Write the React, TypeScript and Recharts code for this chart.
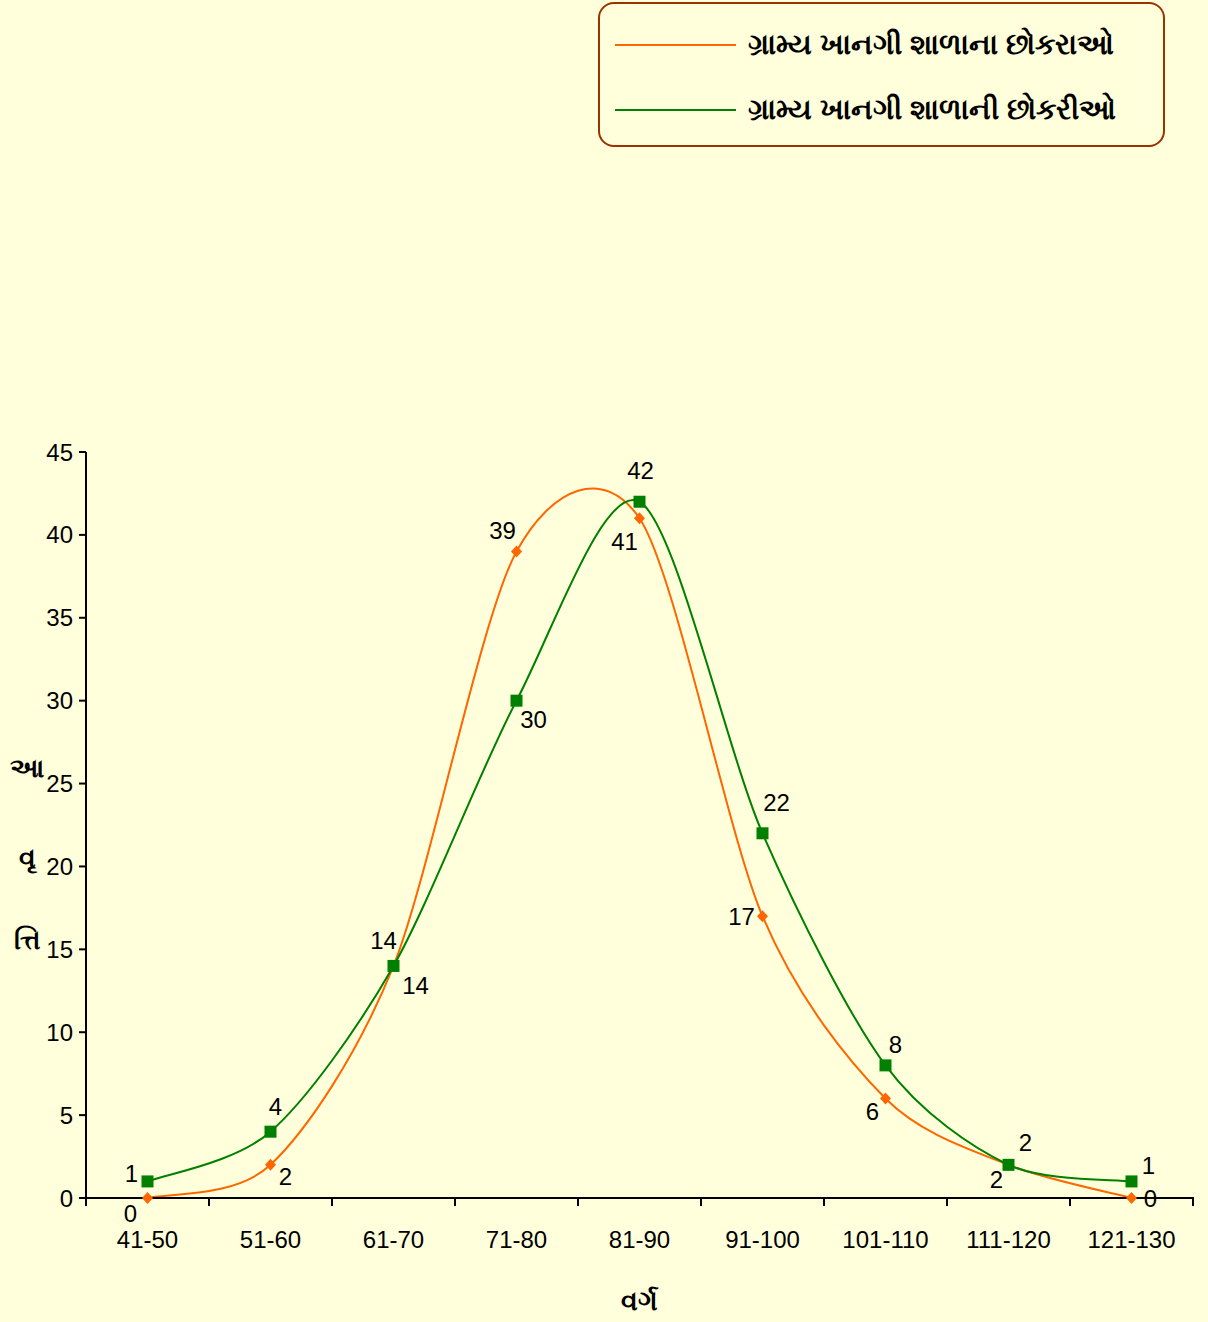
import { LineChart, Line, XAxis, YAxis, LabelList } from 'recharts';

const categories = ['41-50', '51-60', '61-70', '71-80', '81-90', '91-100', '101-110', '111-120', '121-130'];
const boys = [0, 2, 14, 39, 41, 17, 6, 2, 0];
const girls = [1, 4, 14, 30, 42, 22, 8, 2, 1];
const yTicks = [0, 5, 10, 15, 20, 25, 30, 35, 40, 45];

const boysName = 'ગ્રામ્ય ખાનગી શાળાના છોકરાઓ';
const girlsName = 'ગ્રામ્ય ખાનગી શાળાની છોકરીઓ';

// label placement around each point (dx, dy)
const boysLabelPos = [[-17, 15], [15, 12], [22, 20], [-14, -21], [-15, 23], [-21, 0], [-13, 13], [-12, 15], [19, 0]];
const girlsLabelPos = [[-16, -8], [5, -25], [-10, -25], [17, 19], [1, -31], [14, -31], [10, -21], [17, -22], [17, -16]];

const data = categories.map((c, i) => ({ name: c, boys: boys[i], girls: girls[i] }));

const BG = '#FFFFDB';
const ORANGE = '#FF6600';
const GREEN = '#008000';
const FONT = '"Liberation Sans", Arial, sans-serif';
const HALF_BAND = 61.5;
const TENSION = 0.145;

// excel-like smoothed line (catmull-rom style bezier)
function excelCurve(context: any) {
  let pts: [number, number][] = [];
  return {
    areaStart() {},
    areaEnd() {},
    lineStart() { pts = []; },
    lineEnd() {
      if (!pts.length) return;
      context.moveTo(pts[0][0], pts[0][1]);
      for (let i = 0; i < pts.length - 1; i++) {
        const p0 = pts[Math.max(i - 1, 0)];
        const p1 = pts[i];
        const p2 = pts[i + 1];
        const p3 = pts[Math.min(i + 2, pts.length - 1)];
        context.bezierCurveTo(
          p1[0] + (p2[0] - p0[0]) * TENSION, p1[1] + (p2[1] - p0[1]) * TENSION,
          p2[0] - (p3[0] - p1[0]) * TENSION, p2[1] - (p3[1] - p1[1]) * TENSION,
          p2[0], p2[1]
        );
      }
    },
    point(x: number, y: number) { pts.push([+x, +y]); },
  };
}

const Diamond = (props: any) => {
  const { cx, cy } = props;
  if (cx == null || cy == null) return null;
  return <path d={`M${cx},${cy - 6}L${cx + 5.5},${cy}L${cx},${cy + 6}L${cx - 5.5},${cy}Z`} fill={ORANGE} />;
};

const Square = (props: any) => {
  const { cx, cy } = props;
  if (cx == null || cy == null) return null;
  return <rect x={cx - 6} y={cy - 6} width={12} height={12} fill={GREEN} />;
};

const makeLabel = (pos: number[][]) => (props: any) => {
  const { x, y, value, index } = props;
  const [dx, dy] = pos[index] || [0, -15];
  return (
    <text x={x + dx} y={y + dy} textAnchor="middle" dominantBaseline="central" fontSize={24} fontFamily={FONT} fill="#000">
      {value}
    </text>
  );
};

const XTick = (props: any) => {
  const { x, y, payload, index } = props;
  const top = y - 9;
  return (
    <g>
      {index === 0 && <line x1={x - HALF_BAND} y1={top} x2={x - HALF_BAND} y2={top + 9} stroke="#000" strokeWidth={2} />}
      <line x1={x + HALF_BAND} y1={top} x2={x + HALF_BAND} y2={top + 9} stroke="#000" strokeWidth={2} />
      <text x={x} y={y + 33} textAnchor="middle" dominantBaseline="central" fontSize={24} fontFamily={FONT} fill="#000">
        {payload.value}
      </text>
    </g>
  );
};

const LegendBox = () => (
  <div style={{ position: 'absolute', left: 598, top: 2, width: 567, height: 145, border: '2px solid #993300', borderRadius: 16, background: BG, boxSizing: 'border-box', fontFamily: FONT }}>
    {[{ name: boysName, color: ORANGE, top: 43 }, { name: girlsName, color: GREEN, top: 108 }].map((it) => (
      <div key={it.name} style={{ position: 'absolute', left: 15, top: it.top - 2 - 18, height: 36, display: 'flex', alignItems: 'center' }}>
        <div style={{ width: 121, height: 2, background: it.color }} />
        <span style={{ marginLeft: 12, fontSize: 29, fontWeight: 'bold', whiteSpace: 'nowrap' }}>{it.name}</span>
      </div>
    ))}
  </div>
);

const YLabel = () => (
  <g fontFamily={FONT} fontSize={27} fontWeight="bold" fill="#000">
    <text x={27} y={768} textAnchor="middle" dominantBaseline="central">આ</text>
    <text x={27} y={858} textAnchor="middle" dominantBaseline="central">વૃ</text>
    <text x={27} y={940} textAnchor="middle" dominantBaseline="central">ત્તિ</text>
  </g>
);

export default function App() {
  return (
    <div style={{ position: 'absolute', left: 0, top: 0, width: 1208, height: 1322, background: BG }}>
      <LineChart width={1208} height={1322} data={data} margin={{ top: 452, right: 15, bottom: 84, left: 26 }}>
        <XAxis
          dataKey="name"
          stroke="#000"
          strokeWidth={2}
          tickLine={false}
          tick={<XTick />}
          height={40}
          interval={0}
          padding={{ left: HALF_BAND, right: HALF_BAND }}
          label={{ value: 'વર્ગ', position: 'insideBottom', offset: -72, fontSize: 27, fontWeight: 'bold', fill: '#000', fontFamily: FONT }}
        />
        <YAxis
          domain={[0, 45]}
          ticks={yTicks}
          interval={0}
          width={60}
          stroke="#000"
          strokeWidth={2}
          tickSize={7}
          tickMargin={6}
          tick={{ fill: '#000', fontSize: 24, fontFamily: FONT }}
          label={<YLabel />}
        />
        <Line
          dataKey="boys"
          name={boysName}
          type={excelCurve as any}
          stroke={ORANGE}
          strokeWidth={2}
          dot={<Diamond />}
          activeDot={false}
          isAnimationActive={false}
        >
          <LabelList dataKey="boys" content={makeLabel(boysLabelPos)} />
        </Line>
        <Line
          dataKey="girls"
          name={girlsName}
          type={excelCurve as any}
          stroke={GREEN}
          strokeWidth={2}
          dot={<Square />}
          activeDot={false}
          isAnimationActive={false}
        >
          <LabelList dataKey="girls" content={makeLabel(girlsLabelPos)} />
        </Line>
      </LineChart>
      <LegendBox />
    </div>
  );
}
